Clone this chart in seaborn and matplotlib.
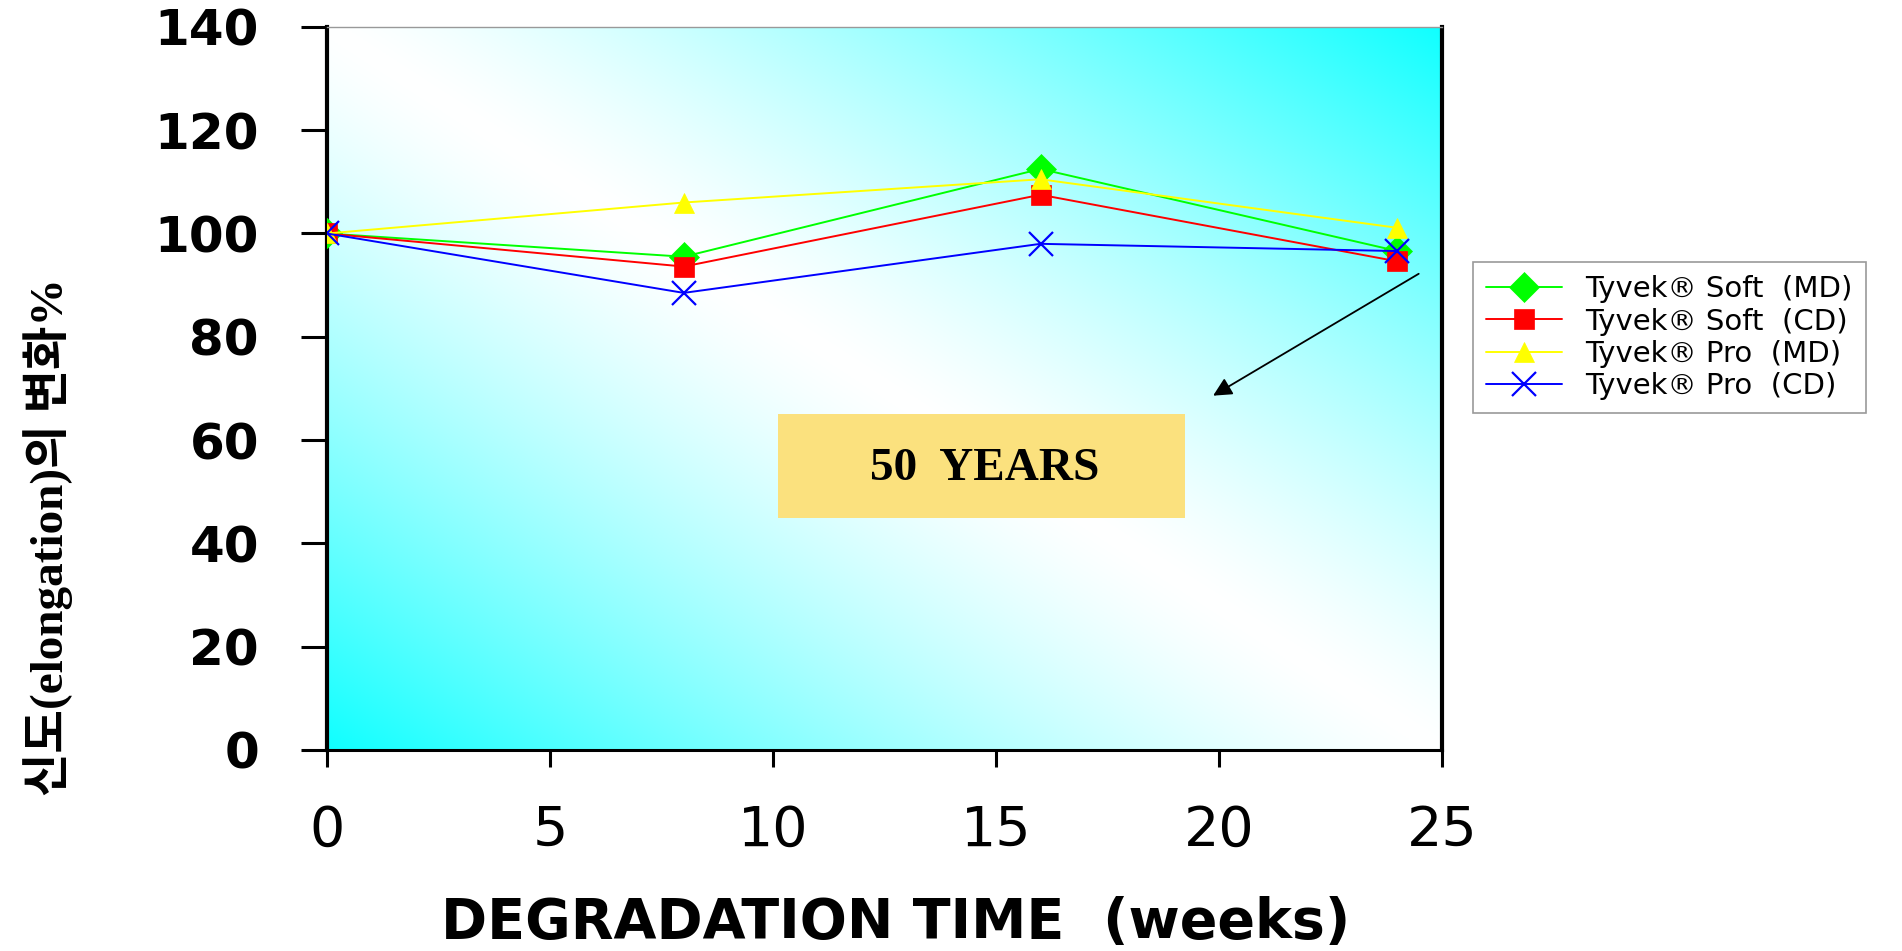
import numpy as np
import pandas as pd
import matplotlib
matplotlib.use('Agg')
import matplotlib.pyplot as plt
import seaborn as sns
from matplotlib.patches import Rectangle

# dados
weeks = [0, 8, 16, 24]
soft_md = [100, 95.5, 112.5, 96.6]
soft_cd = [100, 93.6, 107.5, 94.6]
pro_md = [100, 106.0, 110.5, 101.1]
pro_cd = [100, 88.5, 98.0, 96.6]

labels = ['Tyvek® Soft  (MD)', 'Tyvek® Soft  (CD)', 'Tyvek® Pro  (MD)', 'Tyvek® Pro  (CD)']
colors = ['#00FF00', '#FF0000', '#FFFF00', '#0000FF']
markers = ['D', 's', '^', 'x']
series = [soft_md, soft_cd, pro_md, pro_cd]

x_ticks = [0, 5, 10, 15, 20, 25]
y_ticks = [0, 20, 40, 60, 80, 100, 120, 140]

sns.set_theme(style='white')
plt.rcParams['font.family'] = ['DejaVu Sans']
plt.rcParams['text.color'] = 'black'
plt.rcParams['axes.labelcolor'] = 'black'
plt.rcParams['xtick.color'] = 'black'
plt.rcParams['ytick.color'] = 'black'

fig = plt.figure(figsize=(19.02, 9.51), dpi=100)
ax = fig.add_axes([0.1719, 0.2114, 0.5862, 0.7603])

# fundo em gradiente (ciano nos cantos, branco na diagonal)
u = np.linspace(0, 1, 400)
v = np.linspace(0, 1, 300)
U, V = np.meshgrid(u, v)
t = np.clip(np.abs(U + V - 1), 0, 1) ** 1.3
img = np.zeros((300, 400, 3))
img[..., 0] = 1 - t * (1 - 0.06)
img[..., 1] = 1
img[..., 2] = 1
ax.imshow(img, extent=[0, 25, 0, 140], origin='lower', aspect='auto', zorder=0)

for vals, lab, c, m in zip(series, labels, colors, markers):
    ms = 15 if m != 'x' else 17
    sns.lineplot(x=weeks, y=vals, color=c, marker=m, markersize=ms, label=lab,
                 markeredgecolor=c, markeredgewidth=1.6 if m == 'x' else 0.5,
                 linewidth=1.4, ax=ax, zorder=4)

ax.set_xlim(0, 25)
ax.set_ylim(0, 140)
ax.set_xticks(x_ticks)
ax.set_yticks(y_ticks)
ax.tick_params(axis='x', direction='out', length=12, width=2.2, pad=27,
               labelsize=40, bottom=True, colors='black')
ax.tick_params(axis='y', direction='out', length=19, width=2.2, pad=30,
               labelsize=36, left=True, colors='black')
for lb in ax.get_yticklabels():
    lb.set_fontweight('bold')

for side in ['left', 'right']:
    ax.spines[side].set_color('black')
    ax.spines[side].set_linewidth(3)
ax.spines['bottom'].set_color('black')
ax.spines['bottom'].set_linewidth(2.2)
ax.spines['top'].set_color('#999999')
ax.spines['top'].set_linewidth(1)

ax.set_xlabel('DEGRADATION TIME  (weeks)', fontsize=40, fontweight='bold',
              va='center', color='black')
ax.xaxis.set_label_coords(0.51, -0.24)
ax.set_ylabel('신도(elongation)의 변화%', fontsize=34, fontweight='bold',
              family=['Liberation Serif', 'Noto Sans CJK KR'], va='center',
              color='black')
ax.yaxis.set_label_coords(-0.25, 0.295)

# caixa "50 YEARS" e seta
ax.add_patch(Rectangle((10.11, 44.9), 9.13, 20.2, facecolor='#FBE17E',
                       edgecolor='none', zorder=3))
ax.text(14.75, 54.4, '50  YEARS', fontsize=34, fontweight='bold',
        family='Liberation Serif', ha='center', va='center', color='black',
        zorder=5)
ax.annotate('', xy=(19.87, 68.6), xytext=(24.48, 92.2),
            arrowprops=dict(arrowstyle='-|>', color='black', lw=1.3,
                            mutation_scale=28, shrinkA=0, shrinkB=0), zorder=5)

leg = ax.legend(loc='upper left', bbox_to_anchor=(0.7744, 0.7245),
                bbox_transform=fig.transFigure, borderaxespad=0,
                fontsize=21, frameon=True, fancybox=False, handlelength=2.6,
                labelspacing=0.15, borderpad=0.45, markerscale=1.0)
leg.get_frame().set_edgecolor('#808080')
leg.get_frame().set_linewidth(1.2)
leg.get_frame().set_facecolor('white')
for txt in leg.get_texts():
    txt.set_color('black')

fig.savefig('out.png', dpi=100)
